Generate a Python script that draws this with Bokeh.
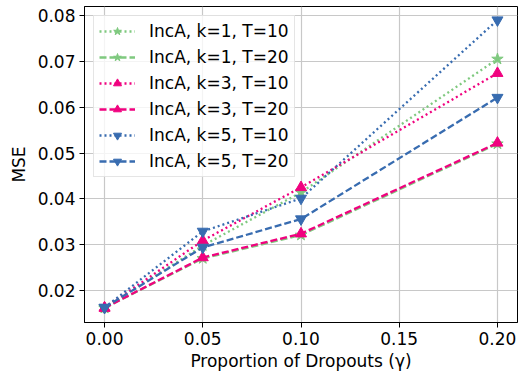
from bokeh.plotting import figure
from bokeh.models import FixedTicker, Range1d, Legend, LegendItem, NumeralTickFormatter
from bokeh.embed import file_html
from bokeh.resources import INLINE

gamma = [0.0, 0.05, 0.10, 0.20]
k1_t10 = [0.0162, 0.0298, 0.0414, 0.0705]
k1_t20 = [0.0162, 0.0270, 0.0321, 0.0520]
k3_t10 = [0.0162, 0.0309, 0.0425, 0.0674]
k3_t20 = [0.0162, 0.0272, 0.0324, 0.0522]
k5_t10 = [0.0163, 0.0329, 0.0401, 0.0790]
k5_t20 = [0.0163, 0.0294, 0.0356, 0.0621]

labels = ["IncA, k=1, T=10", "IncA, k=1, T=20", "IncA, k=3, T=10",
          "IncA, k=3, T=20", "IncA, k=5, T=10", "IncA, k=5, T=20"]
series = [k1_t10, k1_t20, k3_t10, k3_t20, k5_t10, k5_t20]
colors = ["#7fc97f", "#7fc97f", "#f0027f", "#f0027f", "#386cb0", "#386cb0"]
markers = ["star", "star", "triangle", "triangle", "inverted_triangle", "inverted_triangle"]
dashes = ["2 3", "7 3"] * 3

FONT = "DejaVu Sans"
FS = "17px"

p = figure(width=522, height=374, output_backend="svg", toolbar_location=None,
           x_range=Range1d(-0.0102, 0.2102), y_range=Range1d(0.01303, 0.08196),
           min_border_left=84, min_border_right=5, min_border_top=6, min_border_bottom=52)

items = []
for lab, ys, c, m, d in zip(labels, series, colors, markers, dashes):
    r1 = p.line(gamma, ys, line_color=c, line_width=2.3, line_dash=d)
    r2 = p.scatter(gamma, ys, marker=m, size=11 if m != "star" else 12,
                   fill_color=c, line_color=c)
    items.append(LegendItem(label=lab, renderers=[r1, r2]))

legend = Legend(items=items, location="top_left")
legend.label_text_font = FONT
legend.label_text_font_size = FS
legend.label_text_color = "black"
legend.glyph_width = 36
legend.glyph_height = 20
legend.label_height = 20
legend.label_standoff = 14
legend.spacing = 6
legend.padding = 5
legend.margin = 9
legend.border_line_color = "#cccccc"
legend.border_line_width = 1
legend.background_fill_alpha = 0.8
p.add_layout(legend, "center")

p.xaxis.ticker = FixedTicker(ticks=[0.0, 0.05, 0.10, 0.15, 0.20])
p.yaxis.ticker = FixedTicker(ticks=[0.02, 0.03, 0.04, 0.05, 0.06, 0.07, 0.08])
p.xaxis.formatter = NumeralTickFormatter(format="0.00")
p.yaxis.formatter = NumeralTickFormatter(format="0.00")

p.xaxis.axis_label = "Proportion of Dropouts (γ)"
p.yaxis.axis_label = "MSE"
for ax in (p.xaxis, p.yaxis):
    ax.axis_label_text_font = FONT
    ax.axis_label_text_font_size = FS
    ax.axis_label_text_font_style = "normal"
    ax.axis_label_text_color = "black"
    ax.major_label_text_font = FONT
    ax.major_label_text_font_size = FS
    ax.major_label_text_color = "black"
    ax.axis_line_color = "black"
    ax.major_tick_line_color = "black"
    ax.major_tick_out = 5
    ax.major_tick_in = 0
    ax.minor_tick_line_color = None
p.xaxis.axis_label_standoff = 3
p.xaxis.major_label_standoff = 4
p.yaxis.axis_label_standoff = 6
p.yaxis.major_label_standoff = 4

p.grid.grid_line_color = "#c8c8c8"
p.grid.grid_line_width = 1.2
p.outline_line_color = "black"
p.outline_line_width = 1
p.background_fill_color = "white"
p.border_fill_color = "white"

open("out.html", "w").write(file_html(p, INLINE))
